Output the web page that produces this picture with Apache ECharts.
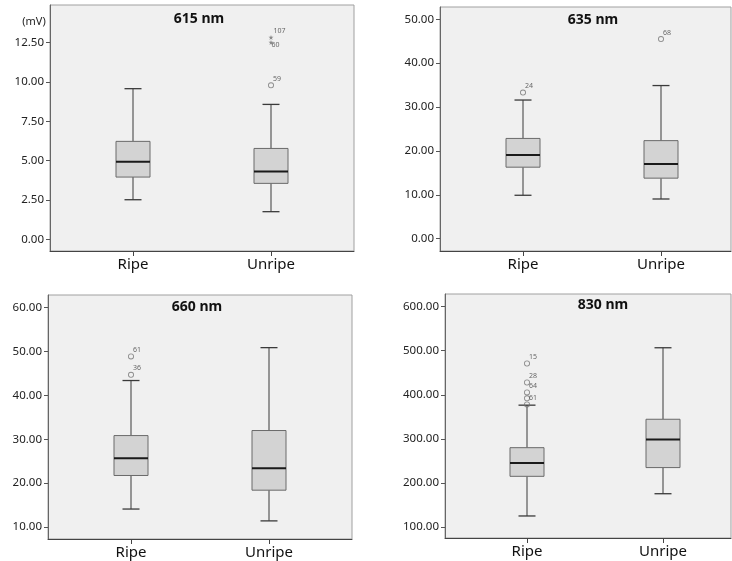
<!DOCTYPE html>
<html><head><meta charset="utf-8">
<script src="https://cdn.jsdelivr.net/npm/echarts@6/dist/echarts.min.js"></script>
<style>html,body{margin:0;padding:0;background:#fff}#c{width:732px;height:561px}</style>
</head><body><div id="c"></div>
<script>
// ---- data ----
const categories = ['Ripe', 'Unripe'];
const titles = ['615 nm', '635 nm', '660 nm', '830 nm'];
// [low whisker, Q1, median, Q3, high whisker]
const box615 = [[2.52, 3.96, 4.94, 6.23, 9.58], [1.76, 3.56, 4.32, 5.78, 8.58]];
const box635 = [[9.9, 16.3, 19.05, 22.85, 31.6], [9.05, 13.8, 17.0, 22.35, 34.9]];
const box660 = [[14.1, 21.75, 25.7, 30.85, 43.4], [11.4, 18.4, 23.4, 32.0, 50.9]];
const box830 = [[125, 215, 245.5, 280, 376.5], [175.5, 234.8, 298.5, 344.5, 506.8]];
// outliers: [category index, value, case label, marker]
const out615 = [[1, 9.79, '59', 'o'], [1, 12.52, '60', '*'], [1, 12.84, '107', '*']];
const out635 = [[0, 33.3, '24', 'o'], [1, 45.5, '68', 'o']];
const out660 = [[0, 48.9, '61', 'o'], [0, 44.7, '36', 'o']];
const out830 = [[0, 471, '15', 'o'], [0, 428, '28', 'o'], [0, 405.5, '64', 'o'], [0, 392, '', 'o'], [0, 378, '61', 'o']];
const ticks615 = [0, 2.5, 5, 7.5, 10, 12.5];
const ticks635 = [0, 10, 20, 30, 40, 50];
const ticks660 = [10, 20, 30, 40, 50, 60];
const ticks830 = [100, 200, 300, 400, 500, 600];

// ---- layout (pixels) ----
const panels = [
  {box: box615, out: out615, ticks: ticks615, min: -0.74, max: 14.9, L: 50, T: 5, W: 304, H: 246, iL: 64, iW: 276, tx: 199, ty: 19},
  {box: box635, out: out635, ticks: ticks635, min: -2.8, max: 52.8, L: 440, T: 7, W: 291, H: 244, iL: 454, iW: 276, tx: 593, ty: 20},
  {box: box660, out: out660, ticks: ticks660, min: 7.27, max: 62.9, L: 48, T: 295, W: 304, H: 244, iL: 62, iW: 276, tx: 197, ty: 307},
  {box: box830, out: out830, ticks: ticks830, min: 75, max: 628.8, L: 445, T: 294, W: 286, H: 244, iL: 459, iW: 272, tx: 603, ty: 305}
];
const FONT = 'Noto Sans';
const labelBelow = {'60': true};
const RING = 'path://M-1,0A1,1 0 1,0 1,0A1,1 0 1,0 -1,0ZM-0.72,0A0.72,0.72 0 1,1 0.72,0A0.72,0.72 0 1,1 -0.72,0Z';
const STAR = 'path://M0,-1L0.22,-0.3L0.95,-0.31L0.36,0.12L0.59,0.81L0,0.38L-0.59,0.81L-0.36,0.12L-0.95,-0.31L-0.22,-0.3Z';

const option = {animation: false, grid: [], xAxis: [], yAxis: [], series: [], graphic: []};

panels.forEach((p, i) => {
  const og = 2 * i, ig = 2 * i + 1;
  option.grid.push({left: p.L, top: p.T, width: p.W, height: p.H, show: true,
    backgroundColor: '#f0f0f0', borderColor: '#a0a0a0', borderWidth: 1});
  option.grid.push({left: p.iL, top: p.T, width: p.iW, height: p.H});
  option.xAxis.push({gridIndex: og, type: 'value', min: 0, max: 1, position: 'bottom',
    axisLine: {show: true, onZero: false, lineStyle: {color: '#444', width: 1}},
    axisTick: {show: false}, axisLabel: {show: false}, splitLine: {show: false}});
  option.yAxis.push({gridIndex: og, type: 'value', min: p.min, max: p.max,
    axisLine: {show: true, onZero: false, lineStyle: {color: '#666', width: 1}},
    axisTick: {show: true, length: 4, customValues: p.ticks, lineStyle: {color: '#555'}},
    axisLabel: {show: true, customValues: p.ticks, margin: 6, color: '#222', fontSize: 11.5, fontFamily: FONT,
      formatter: v => Number(v).toFixed(2)},
    splitLine: {show: false}});
  option.xAxis.push({gridIndex: ig, type: 'category', data: categories, boundaryGap: true,
    axisLine: {show: false, onZero: false},
    axisTick: {show: true, alignWithLabel: true, length: 5, lineStyle: {color: '#444'}},
    axisLabel: {show: true, color: '#111', fontSize: 15, fontFamily: FONT, margin: 6},
    splitLine: {show: false}});
  option.yAxis.push({gridIndex: ig, type: 'value', min: p.min, max: p.max, show: false});

  option.series.push({
    type: 'custom', xAxisIndex: ig, yAxisIndex: ig,
    data: p.box.map((b, k) => [k].concat(b)),
    encode: {x: 0, y: [1, 2, 3, 4, 5]},
    renderItem: (params, api) => {
      const c = api.value(0);
      const lo = api.coord([c, api.value(1)]);
      const q1 = api.coord([c, api.value(2)]);
      const md = api.coord([c, api.value(3)]);
      const q3 = api.coord([c, api.value(4)]);
      const hi = api.coord([c, api.value(5)]);
      const x = lo[0], hw = 17, cw = 8.5;
      const lc = '#3a3a3a';
      return {type: 'group', children: [
        {type: 'line', shape: {x1: x, y1: hi[1], x2: x, y2: q3[1]}, style: {stroke: lc, lineWidth: 1}},
        {type: 'line', shape: {x1: x, y1: q1[1], x2: x, y2: lo[1]}, style: {stroke: lc, lineWidth: 1}},
        {type: 'line', shape: {x1: x - cw, y1: hi[1], x2: x + cw, y2: hi[1]}, style: {stroke: lc, lineWidth: 1.3}},
        {type: 'line', shape: {x1: x - cw, y1: lo[1], x2: x + cw, y2: lo[1]}, style: {stroke: lc, lineWidth: 1.3}},
        {type: 'rect', shape: {x: x - hw, y: q3[1], width: 2 * hw, height: q1[1] - q3[1]},
          style: {fill: '#d3d3d3', stroke: '#6a6a6a', lineWidth: 1}},
        {type: 'line', shape: {x1: x - hw, y1: md[1], x2: x + hw, y2: md[1]}, style: {stroke: '#1a1a1a', lineWidth: 2}}
      ]};
    }
  });

  option.series.push({
    type: 'scatter', xAxisIndex: ig, yAxisIndex: ig,
    data: p.out.map(o => ({
      value: [o[0], o[1]],
      symbol: o[3] === '*' ? STAR : RING,
      symbolSize: o[3] === '*' ? 5 : 6,
      itemStyle: {color: '#707070', borderWidth: 0},
      label: {show: o[2] !== '', formatter: o[2], position: labelBelow[o[2]] ? [3, 2] : [5, -7],
        fontSize: 7, color: '#444', fontFamily: FONT}
    })),
    silent: true
  });

  option.graphic.push({type: 'text', x: p.tx, y: p.ty,
    style: {text: titles[i], font: 'bold 14px "' + FONT + '"', fill: '#111', align: 'center', verticalAlign: 'middle'}});
});
option.graphic.push({type: 'text', x: 34, y: 22,
  style: {text: '(mV)', font: '11px "' + FONT + '"', fill: '#222', align: 'center', verticalAlign: 'middle'}});

const chart = echarts.init(document.getElementById('c'), null, {renderer: 'canvas'});
chart.setOption(option);
</script></body></html>
